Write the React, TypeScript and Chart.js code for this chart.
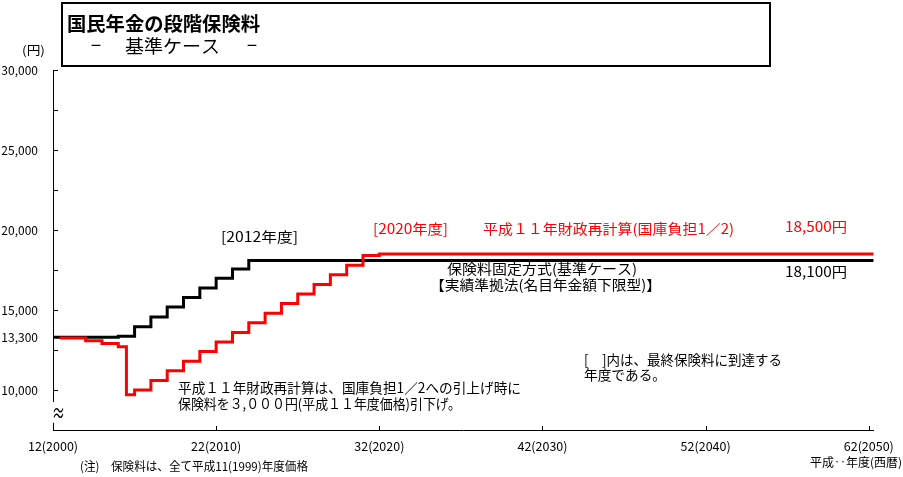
import React, { useEffect, useRef } from "react";
import { Chart, registerables } from "chart.js";

Chart.register(...registerables);

const FONT = '"Noto Sans CJK JP", "Noto Sans", sans-serif';

// 保険料固定方式(基準ケース) : 年度と月額保険料(平成11年度価格)
const fixedYears = [2000, 2004, 2005, 2006, 2007, 2008, 2009, 2010, 2011, 2012, 2050.3];
const fixedFees = [13300, 13360, 13960, 14560, 15180, 15780, 16380, 16980, 17560, 18100, 18100];

// 平成11年財政再計算(国庫負担1/2)
const recalcYears = [
    2000.4, 2002, 2003, 2004, 2004.5, 2005, 2006, 2007, 2008, 2009, 2010, 2011,
    2012, 2013, 2014, 2015, 2016, 2017, 2018, 2019, 2020, 2050.3,
];
const recalcFees = [
    13250, 13080, 12900, 12700, 9700, 10000, 10600, 11200, 11800, 12400, 13000, 13600,
    14200, 14800, 15400, 16000, 16600, 17200, 17800, 18400, 18500, 18500,
];

const xTickYears = [2000, 2010, 2020, 2030, 2040, 2050];
const xTickLabels = ["12(2000)", "22(2010)", "32(2020)", "42(2030)", "52(2040)", "62(2050)"];
const yTickValues = [10000, 13300, 15000, 20000, 25000, 30000];
const yMarkValues = [10000, 12500, 15000, 17500, 20000, 22500, 25000, 27500, 30000];

interface Note {
    text: string;
    x: number;
    y: number;
    size: number;
    width?: number;
    color?: string;
    bold?: boolean;
}

// 図中の文字(位置はピクセル)
const notes: Note[] = [
    { text: "国民年金の段階保険料", x: 67, y: 24, size: 19, width: 193, bold: true },
    { text: "－", x: 90, y: 45, size: 18, width: 12 },
    { text: "基準ケース", x: 125, y: 46.5, size: 18, width: 95 },
    { text: "－", x: 246, y: 45, size: 18, width: 12 },
    { text: "(円)", x: 22, y: 50, size: 12, width: 23 },
    { text: "[2012年度]", x: 221, y: 236.5, size: 14, width: 77 },
    { text: "[2020年度]", x: 373, y: 229, size: 14, width: 75, color: "#ff0000" },
    { text: "平成１１年財政再計算(国庫負担1／2)", x: 483, y: 228.5, size: 14, width: 251, color: "#ff0000" },
    { text: "18,500円", x: 785, y: 227, size: 14, width: 62, color: "#ff0000" },
    { text: "保険料固定方式(基準ケース)", x: 447, y: 268.5, size: 14, width: 190 },
    { text: "【実績準拠法(名目年金額下限型)】", x: 430, y: 285, size: 14, width: 231 },
    { text: "18,100円", x: 785, y: 272, size: 14, width: 62 },
    { text: "平成１１年財政再計算は、国庫負担1／2への引上げ時に", x: 178, y: 388, size: 14, width: 343 },
    { text: "保険料を３,０００円(平成１１年度価格)引下げ。", x: 178, y: 404, size: 14, width: 283 },
    { text: "[　]内は、最終保険料に到達する", x: 584, y: 360, size: 14, width: 198 },
    { text: "年度である。", x: 584, y: 375, size: 14, width: 82 },
    { text: "(注)　保険料は、全て平成11(1999)年度価格", x: 80, y: 466, size: 12, width: 228 },
    { text: "平成‥年度(西暦)", x: 810, y: 462, size: 12, width: 92 },
];

const drawNote = (ctx: CanvasRenderingContext2D, n: Note) => {
    ctx.save();
    ctx.font = `${n.bold ? "bold " : ""}${n.size}px ${FONT}`;
    ctx.fillStyle = n.color || "#000";
    ctx.textAlign = "left";
    ctx.textBaseline = "middle";
    const w = ctx.measureText(n.text).width;
    ctx.translate(n.x, n.y);
    if (n.width && w > 0) ctx.scale(n.width / w, 1);
    ctx.fillText(n.text, 0, 0);
    ctx.restore();
};

const decorPlugin = {
    id: "decor",
    afterDraw(chart: any) {
        const { ctx, chartArea } = chart;
        const x = chart.scales.x;
        const y = chart.scales.y;
        ctx.save();
        ctx.strokeStyle = "#000";
        ctx.lineWidth = 1;

        // 内向きの目盛り
        yMarkValues.forEach((v) => {
            const py = Math.round(y.getPixelForValue(v)) + 0.5;
            ctx.beginPath();
            ctx.moveTo(chartArea.left, py);
            ctx.lineTo(chartArea.left + 5, py);
            ctx.stroke();
        });
        xTickYears.forEach((v) => {
            const px = Math.round(x.getPixelForValue(v)) + 0.5;
            ctx.beginPath();
            ctx.moveTo(px, chartArea.bottom);
            ctx.lineTo(px, chartArea.bottom - 4);
            ctx.stroke();
        });

        // 軸の省略記号
        const breakTop = y.getPixelForValue(9250);
        const breakBottom = y.getPixelForValue(7950);
        ctx.fillStyle = "#fff";
        ctx.fillRect(chartArea.left - 3, breakTop, 6, breakBottom - breakTop);
        drawNote(ctx, { text: "≈", x: chartArea.left - 1, y: (breakTop + breakBottom) / 2, size: 22, width: 13 });

        // タイトル枠
        ctx.lineWidth = 2;
        ctx.strokeRect(62, 3, 708, 63);

        notes.forEach((n) => drawNote(ctx, n));
        ctx.restore();
    },
};

const App: React.FC = () => {
    const canvasRef = useRef<HTMLCanvasElement | null>(null);

    useEffect(() => {
        document.body.style.margin = "0";
        if (!canvasRef.current) return;
        const ctx = canvasRef.current.getContext("2d");
        if (!ctx) return;

        const chart = new Chart(ctx, {
            type: "line",
            data: {
                datasets: [
                    {
                        label: "平成11年財政再計算(国庫負担1/2)",
                        data: recalcYears.map((yr, i) => ({ x: yr, y: recalcFees[i] })),
                        borderColor: "#ff0000",
                        borderWidth: 3,
                        stepped: "before",
                        pointRadius: 0,
                        fill: false,
                    },
                    {
                        label: "保険料固定方式(基準ケース)",
                        data: fixedYears.map((yr, i) => ({ x: yr, y: fixedFees[i] })),
                        borderColor: "#000000",
                        borderWidth: 3,
                        stepped: "before",
                        pointRadius: 0,
                        fill: false,
                    },
                ],
            },
            options: {
                animation: false,
                responsive: false,
                devicePixelRatio: 1,
                layout: { padding: { top: 70, right: 28, left: 0, bottom: 0 } },
                plugins: {
                    legend: { display: false },
                    tooltip: { enabled: false },
                },
                scales: {
                    x: {
                        type: "linear",
                        min: 2000,
                        max: 2050.3,
                        afterBuildTicks: (s: any) => {
                            s.ticks = xTickYears.map((v) => ({ value: v }));
                        },
                        afterFit: (s: any) => {
                            s.height = 47;
                        },
                        grid: { display: false, drawTicks: false },
                        border: { display: true, color: "#000", width: 1 },
                        ticks: {
                            callback: (_v: any, i: number) => xTickLabels[i],
                            color: "#000",
                            font: { family: FONT, size: 12.5 },
                            padding: 9,
                            maxRotation: 0,
                            autoSkip: false,
                        },
                    },
                    y: {
                        type: "linear",
                        min: 7500,
                        max: 30000,
                        afterBuildTicks: (s: any) => {
                            s.ticks = yTickValues.map((v) => ({ value: v }));
                        },
                        afterFit: (s: any) => {
                            s.width = 53;
                        },
                        grid: { display: false, drawTicks: false },
                        border: { display: true, color: "#000", width: 1 },
                        ticks: {
                            callback: (v: any) => Number(v).toLocaleString("en-US"),
                            color: "#000",
                            font: { family: FONT, size: 12 },
                            padding: 15,
                            autoSkip: false,
                        },
                    },
                },
            },
            plugins: [decorPlugin],
        } as any);

        return () => {
            chart.destroy();
        };
    }, []);

    return (
        <div style={{ width: 903, height: 477, background: "#fff" }}>
            <canvas ref={canvasRef} width={903} height={477} style={{ display: "block" }}></canvas>
        </div>
    );
};

export default App;
